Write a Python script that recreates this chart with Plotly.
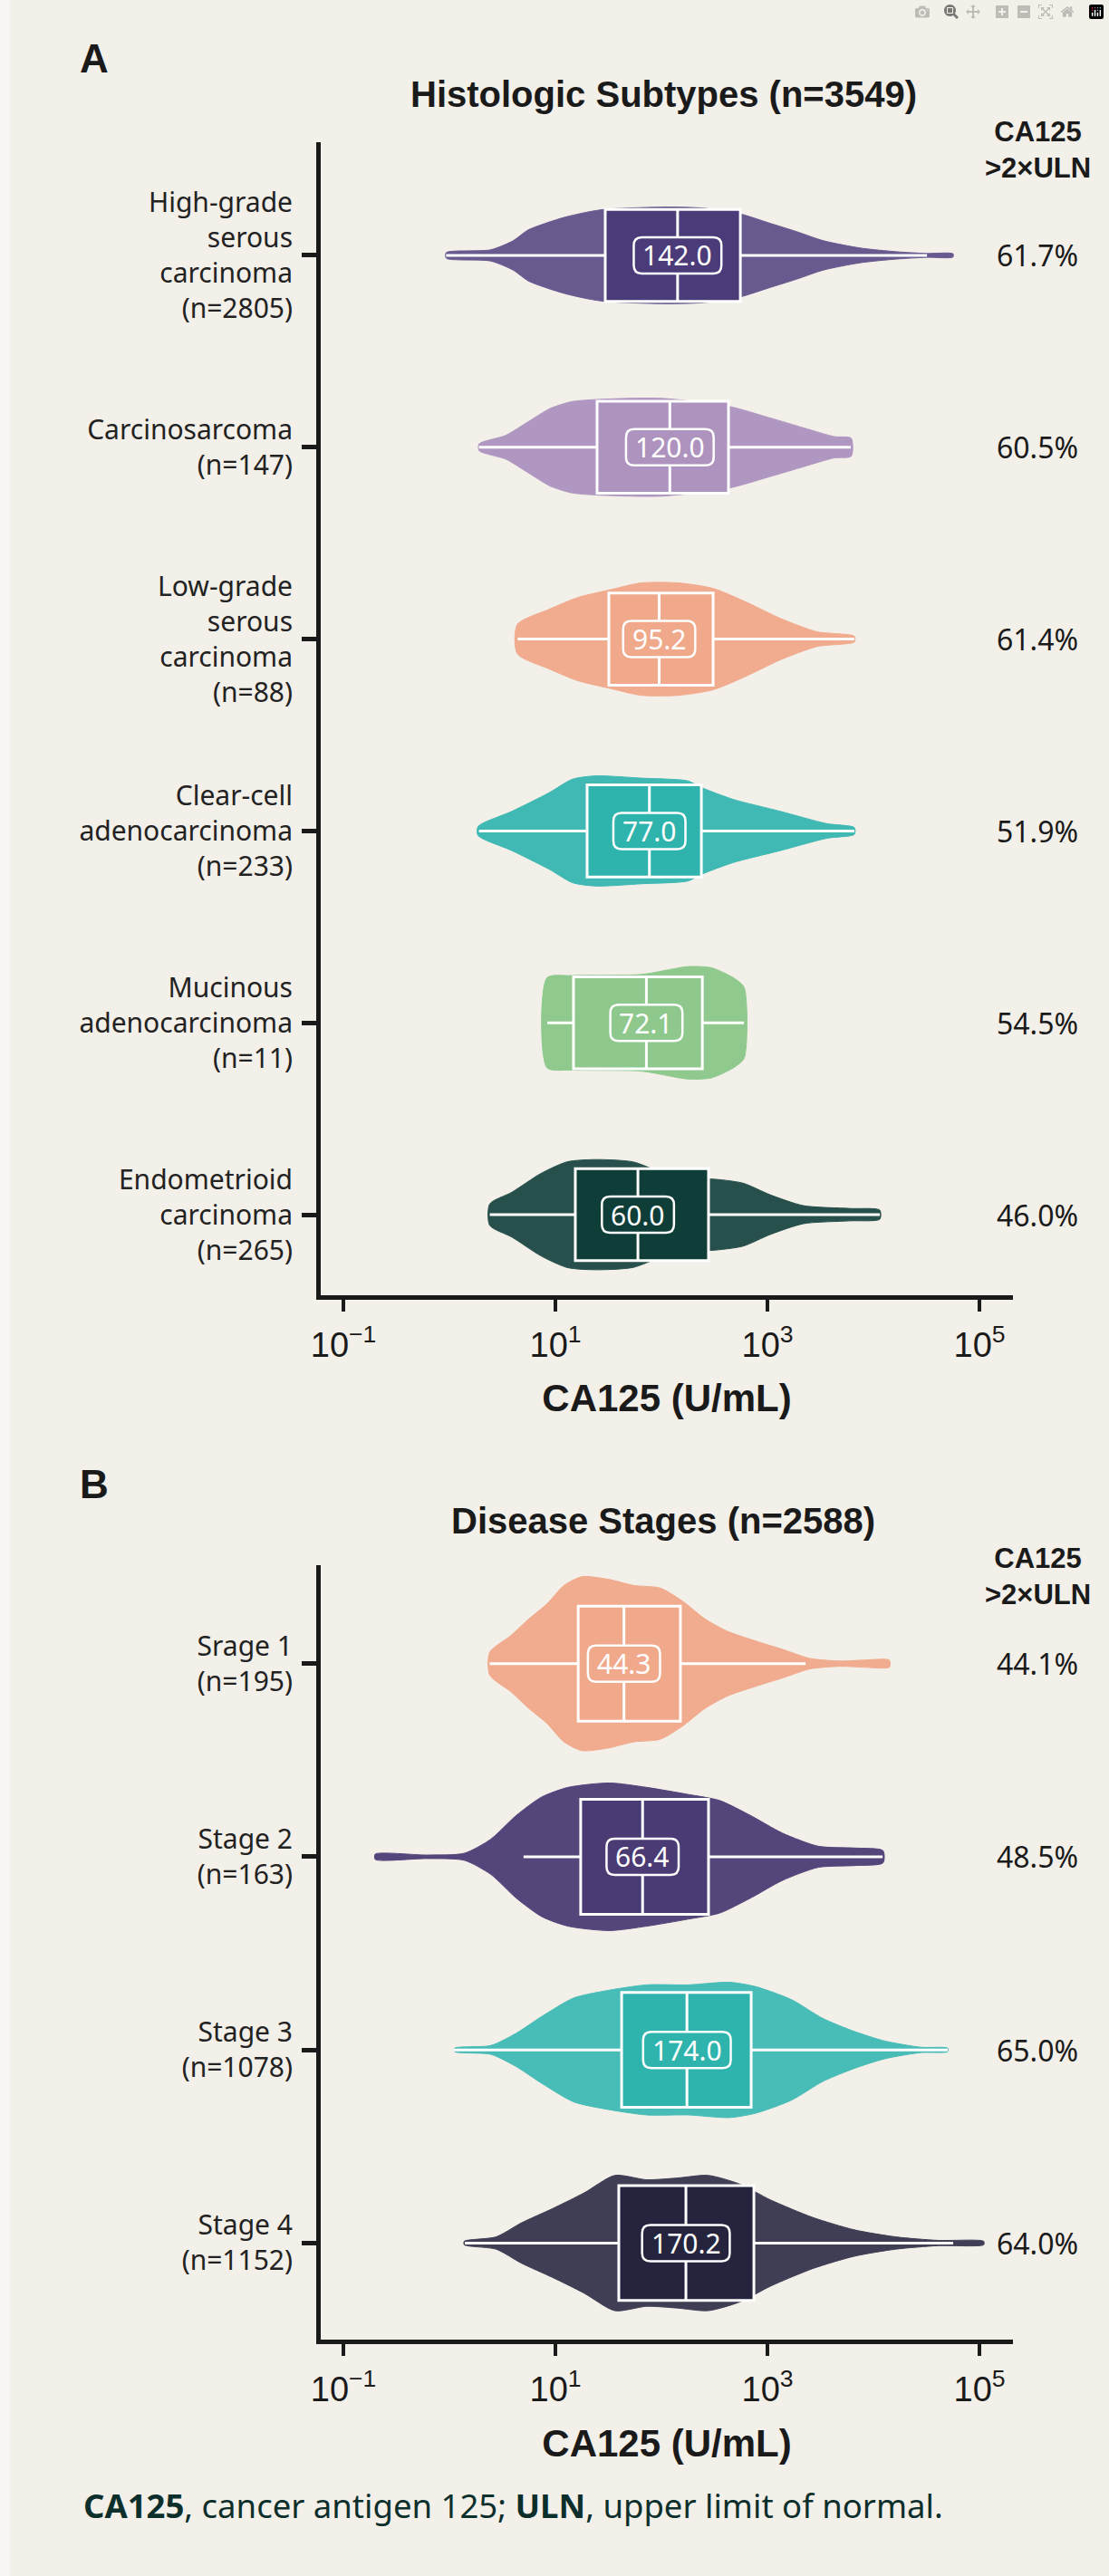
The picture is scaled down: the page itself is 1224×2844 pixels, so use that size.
import math
import plotly.graph_objects as go

W, H = 1224, 2844
BG = "#f3f0e9"
INK = "#1a1a1a"

# ---------------- Panel A : histologic subtypes ----------------
subtype_labels = [
    "High-grade<br>serous<br>carcinoma<br>(n=2805)",
    "Carcinosarcoma<br>(n=147)",
    "Low-grade<br>serous<br>carcinoma<br>(n=88)",
    "Clear-cell<br>adenocarcinoma<br>(n=233)",
    "Mucinous<br>adenocarcinoma<br>(n=11)",
    "Endometrioid<br>carcinoma<br>(n=265)",
]
subtype_colors = ["#4b3b78", "#ad93be", "#f0a98a", "#2fb3ad", "#8ec88c", "#0f3d38"]
subtype_median = [142.0, 120.0, 95.2, 77.0, 72.1, 60.0]
subtype_q1 = [29.5, 24.7, 31.9, 19.9, 14.8, 15.4]
subtype_q3 = [555, 429, 307, 238, 243, 278]
subtype_lo = [0.93, 1.9, 4.4, 1.9, 8.4, 2.4]
subtype_hi = [32000, 6100, 6600, 6600, 600, 11500]
subtype_pct = ["61.7%", "60.5%", "61.4%", "51.9%", "54.5%", "46.0%"]

# density profiles: log10(CA125) and relative width
hgsc_log = [-0.03, 0.39, 0.60, 0.74, 0.92, 1.09, 1.30, 1.47, 1.80, 2.10, 2.40, 2.74, 3.01, 3.28, 3.53, 3.88, 4.22, 4.50, 4.75]
hgsc_w = [0.05, 0.10, 0.26, 0.45, 0.58, 0.68, 0.77, 0.82, 0.85, 0.86, 0.84, 0.74, 0.58, 0.42, 0.26, 0.13, 0.065, 0.035, 0.03]
carc_log = [0.28, 0.53, 0.74, 0.95, 1.15, 1.39, 2.00, 2.63, 3.01, 3.35, 3.63, 3.79]
carc_w = [0.06, 0.21, 0.45, 0.69, 0.81, 0.85, 0.87, 0.73, 0.53, 0.34, 0.19, 0.16]
lgsc_log = [0.64, 0.94, 1.21, 1.50, 1.81, 2.16, 2.49, 2.81, 3.12, 3.47, 3.82]
lgsc_w = [0.26, 0.53, 0.74, 0.87, 1.0, 1.0, 0.90, 0.65, 0.37, 0.13, 0.05]
ccc_log = [0.27, 0.59, 0.94, 1.16, 1.38, 1.81, 2.25, 2.38, 2.68, 3.12, 3.56, 3.82]
ccc_w = [0.08, 0.35, 0.68, 0.92, 0.98, 0.94, 0.89, 0.77, 0.56, 0.35, 0.13, 0.06]
muc_log = [0.92, 1.15, 1.81, 2.25, 2.47, 2.68, 2.78]
muc_w = [0.80, 0.84, 0.86, 1.0, 0.98, 0.80, 0.63]
endo_log = [0.38, 0.59, 0.86, 1.11, 1.38, 1.73, 1.98, 2.25, 2.51, 2.77, 3.03, 3.34, 3.78, 4.06]
endo_w = [0.19, 0.40, 0.73, 0.94, 0.98, 0.94, 0.77, 0.65, 0.63, 0.56, 0.35, 0.16, 0.11, 0.08]

subtype_kde_log = [hgsc_log, carc_log, lgsc_log, ccc_log, muc_log, endo_log]
subtype_kde_w = [hgsc_w, carc_w, lgsc_w, ccc_w, muc_w, endo_w]

# ---------------- Panel B : disease stages ----------------
stage_labels = ["Srage 1<br>(n=195)", "Stage 2<br>(n=163)", "Stage 3<br>(n=1078)", "Stage 4<br>(n=1152)"]
stage_colors = ["#f0a98a", "#4b3b74", "#2fb3ad", "#25243e"]
stage_median = [44.3, 66.4, 174.0, 170.2]
stage_q1 = [16.4, 17.3, 42.1, 39.6]
stage_q3 = [151, 278, 702, 745]
stage_lo = [2.4, 5.0, 1.1, 1.4]
stage_hi = [2290, 12200, 50200, 56500]
stage_pct = ["44.1%", "48.5%", "65.0%", "64.0%"]

s1_log = [0.38, 0.58, 0.75, 0.92, 1.08, 1.25, 1.50, 1.74, 1.99, 2.20, 2.41, 2.62, 2.91, 3.15, 3.40, 3.69, 3.90, 4.15]
s1_w = [0.13, 0.32, 0.51, 0.68, 0.89, 0.99, 0.96, 0.89, 0.86, 0.71, 0.51, 0.37, 0.25, 0.16, 0.06, 0.03, 0.04, 0.04]
s2_log = [-0.70, -0.21, 0.14, 0.39, 0.63, 0.87, 1.12, 1.51, 1.86, 2.25, 2.55, 2.84, 3.14, 3.48, 3.82, 4.09]
s2_w = [0.03, 0.02, 0.04, 0.20, 0.47, 0.68, 0.79, 0.84, 0.79, 0.71, 0.64, 0.47, 0.27, 0.12, 0.10, 0.07]
s3_log = [0.05, 0.39, 0.63, 0.87, 1.17, 1.46, 1.86, 2.25, 2.64, 2.89, 3.23, 3.52, 3.82, 4.11, 4.45, 4.70]
s3_w = [0.02, 0.05, 0.19, 0.38, 0.59, 0.67, 0.74, 0.74, 0.77, 0.72, 0.57, 0.36, 0.21, 0.10, 0.03, 0.02]
s4_log = [0.14, 0.44, 0.68, 0.97, 1.27, 1.56, 1.86, 2.15, 2.44, 2.74, 3.03, 3.43, 3.82, 4.21, 4.61, 5.04]
s4_w = [0.02, 0.07, 0.23, 0.39, 0.57, 0.77, 0.72, 0.74, 0.77, 0.67, 0.49, 0.29, 0.15, 0.07, 0.03, 0.02]

stage_kde_log = [s1_log, s2_log, s3_log, s4_log]
stage_kde_w = [s1_w, s2_w, s3_w, s4_w]

x_tickvals = [0.1, 10, 1000, 100000]
x_ticktext = ["10<sup>\u22121</sup>", "10<sup>1</sup>", "10<sup>3</sup>", "10<sup>5</sup>"]

# ---------------- style helpers ----------------
def lighten(hex_color, f):
    h = hex_color.lstrip("#")
    r, g, b = (int(h[i:i + 2], 16) for i in (0, 2, 4))
    r, g, b = (round(c + (255 - c) * f) for c in (r, g, b))
    return f"#{r:02x}{g:02x}{b:02x}"

# how much the dense jittered dots lighten each violin body (style only)
subtype_dot_tint = [0.16, 0.04, 0.04, 0.08, 0.02, 0.10]
stage_dot_tint = [0.04, 0.05, 0.12, 0.12]

def px_x(p):
    return p / W

def px_y(p):
    return 1 - p / H

def rounded_rect(w, h, r):
    a, b = w / 2, h / 2
    return (f"M {-a + r},{-b} L {a - r},{-b} Q {a},{-b} {a},{-b + r} "
            f"L {a},{b - r} Q {a},{b} {a - r},{b} L {-a + r},{b} "
            f"Q {-a},{b} {-a},{b - r} L {-a},{-b + r} Q {-a},{-b} {-a + r},{-b} Z")

LABEL_FONT = 30

def label_width(text):
    digits = sum(ch.isdigit() for ch in text)
    return digits * 0.572 * LABEL_FONT + text.count(".") * 0.27 * LABEL_FONT + 20

X_LEFT, X_RIGHT = 354, 1118
A_TOP, A_BOT = 157, 1430
B_TOP, B_BOT = 1728, 2583
X_RANGE = [-1.214, 5.316]
A_YRANGE = [5.42, -0.59]
B_YRANGE = [3.5, -0.51]

fig = go.Figure()


def add_panel(xa, ya, xa_top, ya_top, colors, tints, med, q1, q3, lo, hi,
              kde_log, kde_w, half_scale, box_w):
    for i, c in enumerate(colors):
        lg = kde_log[i]
        w = kde_w[i]
        fillc = lighten(c, tints[i])
        xs = [10 ** v for v in lg] + [10 ** v for v in reversed(lg)] + [10 ** lg[0]]
        ys = [i - wi * half_scale for wi in w] + [i + wi * half_scale for wi in reversed(w)] + [i - w[0] * half_scale]
        fig.add_trace(go.Scatter(
            x=xs, y=ys, xaxis=xa, yaxis=ya, mode="lines", fill="toself",
            fillcolor=fillc, line=dict(color=fillc, width=1, shape="spline", smoothing=0.7),
            hoverinfo="skip", showlegend=False))
    for i, c in enumerate(colors):
        fig.add_trace(go.Box(
            y=[i], q1=[q1[i]], median=[med[i]], q3=[q3[i]],
            lowerfence=[lo[i]], upperfence=[hi[i]], orientation="h",
            xaxis=xa_top, yaxis=ya_top, width=box_w, fillcolor=c,
            line=dict(color="white", width=3), whiskerwidth=0,
            boxpoints=False, hoverinfo="skip", showlegend=False))


add_panel("x", "y", "x3", "y3", subtype_colors, subtype_dot_tint, subtype_median,
          subtype_q1, subtype_q3, subtype_lo, subtype_hi, subtype_kde_log, subtype_kde_w,
          0.293, 0.48)
add_panel("x2", "y2", "x4", "y4", stage_colors, stage_dot_tint, stage_median,
          stage_q1, stage_q3, stage_lo, stage_hi, stage_kde_log, stage_kde_w,
          0.455, 0.595)

X_DOMAIN = [px_x(X_LEFT), px_x(X_RIGHT)]
A_DOMAIN = [px_y(A_BOT), px_y(A_TOP)]
B_DOMAIN = [px_y(B_BOT), px_y(B_TOP)]

xaxis_common = dict(
    type="log", range=X_RANGE, domain=X_DOMAIN,
    tickvals=x_tickvals, ticktext=x_ticktext, ticks="outside", ticklen=13, tickwidth=4,
    tickcolor=INK, showline=True, linewidth=5, linecolor=INK, showgrid=False,
    zeroline=False, automargin=False, ticklabelstandoff=4,
    tickfont=dict(family="Liberation Sans, Arial, sans-serif", size=38, color=INK),
    title=dict(text="<b>CA125 (U/mL)</b>", standoff=26,
               font=dict(family="Liberation Sans, Arial, sans-serif", size=42, color=INK)),
)
yaxis_common = dict(
    ticks="outside", ticklen=16, tickwidth=5, tickcolor=INK, showline=True,
    linewidth=5, linecolor=INK, showgrid=False, zeroline=False, automargin=False,
    ticklabelstandoff=4,
    tickfont=dict(family="Noto Sans, sans-serif", size=30, color="#222222"),
)
hidden_x = dict(type="log", range=X_RANGE, domain=X_DOMAIN, visible=False,
                showgrid=False, zeroline=False, automargin=False)
hidden_y = dict(visible=False, showgrid=False, zeroline=False, automargin=False)

fig.update_layout(
    template="none",
    width=W, height=H, autosize=False,
    margin=dict(l=0, r=0, t=0, b=0, pad=0),
    paper_bgcolor=BG, plot_bgcolor=BG,
    showlegend=False, boxmode="overlay",
    xaxis=dict(xaxis_common, anchor="y"),
    xaxis2=dict(xaxis_common, anchor="y2"),
    yaxis=dict(yaxis_common, anchor="x", domain=A_DOMAIN, range=A_YRANGE,
               tickvals=list(range(len(subtype_labels))), ticktext=subtype_labels),
    yaxis2=dict(yaxis_common, anchor="x2", domain=B_DOMAIN, range=B_YRANGE,
                tickvals=list(range(len(stage_labels))), ticktext=stage_labels),
    # overlay axes so the box plots sit on top of the violin bodies
    xaxis3=dict(hidden_x, overlaying="x", anchor="y3"),
    yaxis3=dict(hidden_y, overlaying="y", anchor="x3", domain=A_DOMAIN, range=A_YRANGE),
    xaxis4=dict(hidden_x, overlaying="x2", anchor="y4"),
    yaxis4=dict(hidden_y, overlaying="y2", anchor="x4", domain=B_DOMAIN, range=B_YRANGE),
)

shapes = [dict(type="rect", xref="paper", yref="paper", x0=0, x1=px_x(11), y0=0, y1=1,
               fillcolor="#f8f6f2", line=dict(width=0), layer="below")]
ann = []
for (xr, yr, med, colors, pcts) in [("x", "y", subtype_median, subtype_colors, subtype_pct),
                                    ("x2", "y2", stage_median, stage_colors, stage_pct)]:
    for i, m in enumerate(med):
        txt = f"{m:.1f}"
        # pixel-sized rounded label box anchored at the median value
        shapes.append(dict(type="path", xref=xr, yref=yr, xsizemode="pixel", ysizemode="pixel",
                           xanchor=m, yanchor=i,
                           path=rounded_rect(label_width(txt), 40, 9),
                           fillcolor=colors[i], line=dict(color="white", width=2.5),
                           layer="above"))
        ann.append(dict(xref=xr, yref=yr, x=math.log10(m), y=i, text=txt,
                        showarrow=False,
                        font=dict(family="Noto Sans, sans-serif", size=LABEL_FONT, color="white")))
        ann.append(dict(xref="paper", yref=yr, x=px_x(1145), y=i, text=pcts[i],
                        showarrow=False, xanchor="center",
                        font=dict(family="Noto Sans, sans-serif", size=32, color=INK)))

bold_font = "Liberation Sans, Arial, sans-serif"
for (label, ly, title, ty, hy) in [("A", 64, "Histologic Subtypes (n=3549)", 104, 165),
                                   ("B", 1638, "Disease Stages (n=2588)", 1679, 1740)]:
    ann.append(dict(xref="paper", yref="paper", x=px_x(86), y=px_y(ly), xanchor="left",
                    yanchor="middle", text=f"<b>{label}</b>", showarrow=False,
                    font=dict(family=bold_font, size=44, color=INK)))
    ann.append(dict(xref="paper", yref="paper", x=px_x(732), y=px_y(ty), xanchor="center",
                    yanchor="middle", text=f"<b>{title}</b>", showarrow=False,
                    font=dict(family=bold_font, size=40, color=INK)))
    ann.append(dict(xref="paper", yref="paper", x=px_x(1145), y=px_y(hy), xanchor="center",
                    yanchor="middle", text="<b>CA125<br>&gt;2\u00d7ULN</b>", showarrow=False,
                    font=dict(family=bold_font, size=31, color=INK)))

ann.append(dict(xref="paper", yref="paper", x=px_x(90), y=px_y(2766), xanchor="left",
                yanchor="middle", showarrow=False,
                text="<b>CA125</b>, cancer antigen 125; <b>ULN</b>, upper limit of normal.",
                font=dict(family="Noto Sans, sans-serif", size=36.5, color="#0d2f2c")))

fig.update_layout(annotations=ann, shapes=shapes)

fig.write_html("out.html", post_script="document.body.style.margin='0px';")
